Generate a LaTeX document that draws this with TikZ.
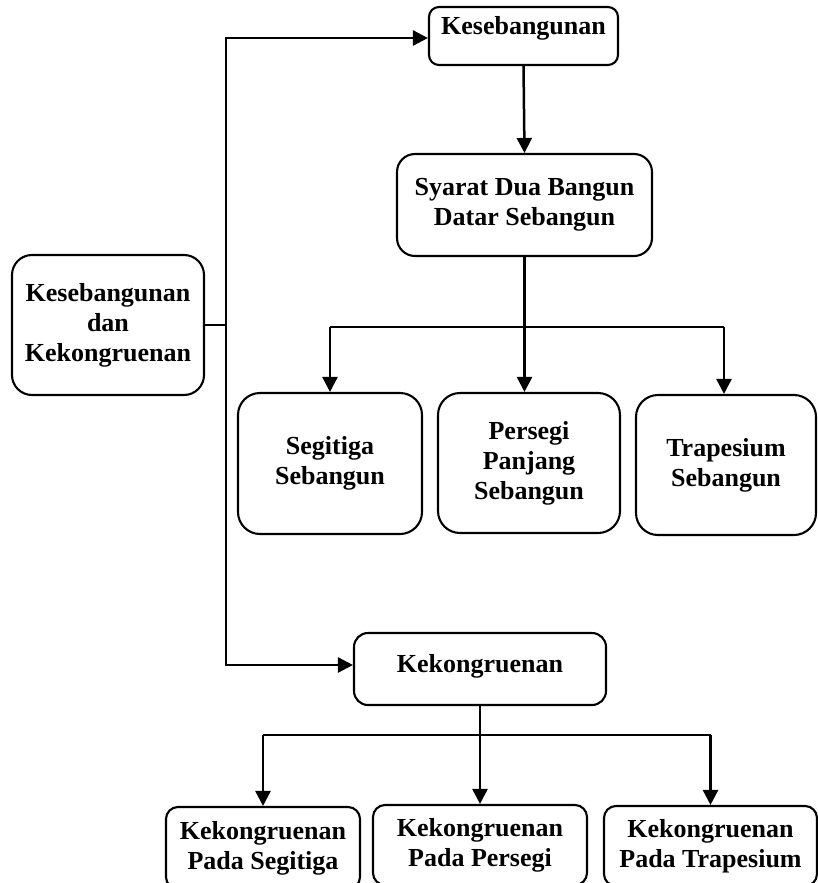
\documentclass[tikz,border=0pt]{standalone}
\usepackage{fontspec}
\setmainfont{Liberation Serif}
\usetikzlibrary{arrows.meta}
\tikzset{
  box/.style={draw, line width=2.1pt, rounded corners=#1, inner sep=0pt, align=center,
    font=\bfseries\fontsize{26}{30}\selectfont},
  box/.default=15pt,
  lbl/.style={inner sep=0pt, font=\bfseries\fontsize{26}{30}\selectfont},
  hline/.style={line width=1.6pt},
  arr/.style={line width=2.5pt, -{Triangle[length=15pt,width=15pt]}},
}
\begin{document}
\begin{tikzpicture}[x=1pt,y=-1pt]
\useasboundingbox (0,0) rectangle (818,883);
\clip (0,0) rectangle (818,883);
% boxes
\node[box=10pt, minimum width=189pt, minimum height=58pt] (tk) at (523.5,36) {};
\node[lbl, anchor=base] (tkt) at (523.5,35) {Kesebangunan};
\node[box=20pt, minimum width=192pt, minimum height=140pt] (left) at (108,325)
  {Kesebangunan\\dan\\Kekongruenan};
\node[box=18pt, minimum width=255pt, minimum height=102pt] (sy) at (524.5,205)
  {Syarat Dua Bangun\\Datar Sebangun};
\node[box=22pt, minimum width=184pt, minimum height=141pt] (b1) at (330,463.5)
  {Segitiga\\Sebangun};
\node[box=22pt, minimum width=182pt, minimum height=140pt] (b2) at (529,463)
  {Persegi\\Panjang\\Sebangun};
\node[box=22pt, minimum width=180pt, minimum height=140pt] (b3) at (726,465)
  {Trapesium\\Sebangun};
\node[box=14pt, minimum width=252pt, minimum height=72pt] (kk) at (480,669) {};
\node[lbl, anchor=base] (kkt) at (480,672) {Kekongruenan};
\node[box=12pt, minimum width=194pt, minimum height=82pt] (c1) at (263,848)
  {Kekongruenan\\Pada Segitiga};
\node[box=12pt, minimum width=214pt, minimum height=80pt] (c2) at (480,845)
  {Kekongruenan\\Pada Persegi};
\node[box=12pt, minimum width=213pt, minimum height=80pt] (c3) at (710.5,846)
  {Kekongruenan\\Pada Trapesium};
% left spine
\coordinate (jl) at (226,325);
\draw[hline] (left.east) -- (jl);
\draw[arr] (jl) |- ([yshift=-2pt]tk.west);
\draw[arr] (jl) |- ([yshift=4pt]kk.west);
% kesebangunan branch
\draw[arr] (tk.south) -- (sy.north);
\coordinate (js) at (525,327);
\draw[hline] (b1.north |- js) -- ([xshift=-2pt]b3.north |- js);
\draw[arr] (sy.south) -- (sy.south |- b2.north);
\draw[arr] (b1.north |- js) -- (b1.north);
\draw[arr] ([xshift=-2pt]b3.north |- js) -- ([xshift=-2pt]b3.north);
% kekongruenan branch
\coordinate (jk) at (480,735);
\draw[hline] (c1.north |- jk) -- (c3.north |- jk);
\draw[arr] (kk.south) -- (kk.south |- c2.north);
\draw[arr] (c1.north |- jk) -- (c1.north);
\draw[arr] (c3.north |- jk) -- (c3.north);
\end{tikzpicture}
\end{document}
